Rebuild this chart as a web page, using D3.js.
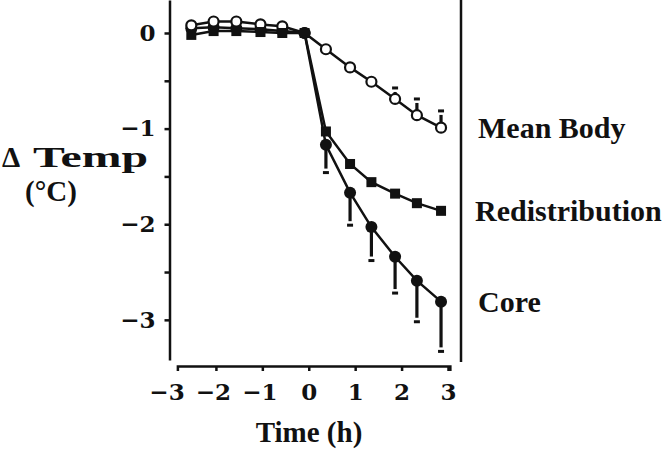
<!DOCTYPE html>
<html>
<head>
<meta charset="utf-8">
<script src="https://cdn.jsdelivr.net/npm/d3@7"></script>
<style>
body { margin: 0; background: #fff; }
.tick text { font-family: 'DejaVu Serif', serif; font-weight: bold; font-size: 23px; fill: #111; }
.axis path, .axis line { stroke: #111; stroke-width: 2.5; }
.label { font-family: 'Liberation Serif', 'Times New Roman', serif; font-weight: bold; fill: #111; }
</style>
</head>
<body>
<div id="chart"></div>
<script>
// time (h) of every measurement
var times = [-2.53, -2.05, -1.56, -1.04, -0.57, -0.09, 0.37, 0.89, 1.35, 1.86, 2.33, 2.85];

// delta temperature (C)
var meanBody       = [0.08, 0.12, 0.12, 0.09, 0.07, 0, -0.17, -0.36, -0.51, -0.69, -0.86, -0.99];
var meanBodyErr    = [0, 0, 0, 0, 0, 0, 0, 0, 0, 0.115, 0.17, 0.175];
var redistribution = [-0.02, 0.02, 0.02, 0.01, 0.0, 0, -1.03, -1.37, -1.56, -1.68, -1.78, -1.86];
var core           = [0.05, 0.06, 0.05, 0.04, 0.02, 0, -1.17, -1.67, -2.03, -2.34, -2.59, -2.81];
var coreErr        = [0, 0, 0, 0, 0, 0, 0.29, 0.34, 0.35, 0.38, 0.43, 0.52];

var xTicks = [-3, -2, -1, 0, 1, 2, 3];
var yTicks = [0, -1, -2, -3];
var yMinor = [-0.5, -1.5, -2.5];
var labels = ['Mean Body', 'Redistribution', 'Core'];

var width = 672, height = 450;
var margin = { top: 0, left: 169.5, bottom: 84, right: 224 };

var svg = d3.select('#chart').append('svg')
  .attr('width', width)
  .attr('height', height);

svg.append('rect').attr('width', width).attr('height', height).attr('fill', '#fff');

var x = d3.scaleLinear().domain([-3, 3]).range([margin.left, width - margin.right]);
var y = d3.scaleLinear().domain([-3.42, 0.345]).range([height - 90, margin.top]);

///////////////////////////////////////////////////////////////
// axes
///////////////////////////////////////////////////////////////

var fmt = d => d < 0 ? '\u2212' + Math.abs(d) : '' + d;

var yAxis = svg.append('g')
  .attr('class', 'axis')
  .attr('transform', 'translate(' + x(-3) + ',0)')
  .call(d3.axisLeft(y).tickValues(yTicks).tickSize(5).tickSizeOuter(0).tickFormat(fmt));
yAxis.selectAll('text').attr('x', -14);

svg.append('g')
  .attr('class', 'axis')
  .attr('transform', 'translate(' + x(-3) + ',0)')
  .call(d3.axisLeft(y).tickValues(yMinor).tickSize(5).tickSizeOuter(0).tickFormat(''))
  .select('.domain').remove();

var xAxisY = y(-3.42) + 6;

// axis line with bent ends
var xd = d3.scaleLinear().domain([-2.83, 3.04]).range([x(-2.83), x(3.04)]);
svg.append('g')
  .attr('class', 'axis')
  .attr('transform', 'translate(0,' + xAxisY + ')')
  .call(d3.axisBottom(xd).tickValues([]).tickSizeOuter(5));

var xAxis = svg.append('g')
  .attr('class', 'axis')
  .attr('transform', 'translate(0,' + xAxisY + ')')
  .call(d3.axisBottom(x).tickValues(xTicks).tickSize(5).tickFormat(fmt));
xAxis.select('.domain').remove();
xAxis.selectAll('text').attr('y', 34).attr('dy', 0).attr('dx', d => d < 0 ? -3 : 0);
xAxis.selectAll('.tick').filter(d => d === -3).select('line').remove();

// right frame line
svg.append('line')
  .attr('x1', 461).attr('x2', 461)
  .attr('y1', 0).attr('y2', xAxisY - 4)
  .attr('stroke', '#111').attr('stroke-width', 2.5);

///////////////////////////////////////////////////////////////
// series
///////////////////////////////////////////////////////////////

var line = d3.line().x((d, i) => x(times[i])).y(d => y(d));

[meanBody, core, redistribution].forEach(s => {
  svg.append('path')
    .datum(s)
    .attr('d', line)
    .attr('fill', 'none')
    .attr('stroke', '#111')
    .attr('stroke-width', 2.5);
});

function errorBars(values, errs, dir, r) {
  var g = svg.append('g');
  values.forEach((v, i) => {
    if (!errs[i]) return;
    var px = x(times[i]), py = y(v), pe = y(v + dir * errs[i]);
    var s = dir > 0 ? -1 : 1;
    g.append('line')
      .attr('x1', px).attr('x2', px)
      .attr('y1', py + s * r).attr('y2', pe - s * 4)
      .attr('stroke', '#111').attr('stroke-width', 3.2);
    g.append('line')
      .attr('x1', px - 3).attr('x2', px + 3)
      .attr('y1', pe).attr('y2', pe)
      .attr('stroke', '#111').attr('stroke-width', 3);
  });
}

errorBars(meanBody, meanBodyErr, 1, 5);
errorBars(core, coreErr, -1, 5);

svg.selectAll('.core')
  .data(core)
  .enter()
  .append('circle')
  .attr('class', 'core')
  .attr('cx', (d, i) => x(times[i]))
  .attr('cy', d => y(d))
  .attr('r', 6)
  .attr('fill', '#111');

svg.selectAll('.mean')
  .data(meanBody)
  .enter()
  .append('circle')
  .attr('class', 'mean')
  .attr('cx', (d, i) => x(times[i]))
  .attr('cy', d => y(d))
  .attr('r', 5)
  .attr('fill', '#fff')
  .attr('stroke', '#111')
  .attr('stroke-width', 2.2);

svg.selectAll('.redis')
  .data(redistribution)
  .enter()
  .append('rect')
  .attr('class', 'redis')
  .attr('x', (d, i) => x(times[i]) - 5)
  .attr('y', d => y(d) - 5)
  .attr('width', 10)
  .attr('height', 10)
  .attr('fill', '#111');

///////////////////////////////////////////////////////////////
// labels
///////////////////////////////////////////////////////////////

var last = times.length - 1;
[meanBody, redistribution, core].forEach((s, i) => {
  svg.append('text')
    .attr('class', 'label')
    .attr('x', i === 1 ? 475 : 478)
    .attr('y', y(s[last]) + 10)
    .style('font-size', '30px')
    .text(labels[i]);
});

svg.append('text')
  .attr('class', 'label')
  .attr('x', 309)
  .attr('y', 442)
  .attr('text-anchor', 'middle')
  .style('font-size', '29px')
  .text('Time (h)');

svg.append('text')
  .attr('class', 'label')
  .attr('x', 2)
  .attr('y', 167)
  .style('font-size', '29px')
  .text('\u0394');

svg.append('text')
  .attr('class', 'label')
  .attr('x', 33)
  .attr('y', 167)
  .attr('textLength', 115)
  .attr('lengthAdjust', 'spacingAndGlyphs')
  .style('font-size', '29px')
  .text('Temp');

svg.append('text')
  .attr('class', 'label')
  .attr('x', 51)
  .attr('y', 201)
  .attr('text-anchor', 'middle')
  .style('font-size', '29px')
  .text('(\u00B0C)');
</script>
</body>
</html>
